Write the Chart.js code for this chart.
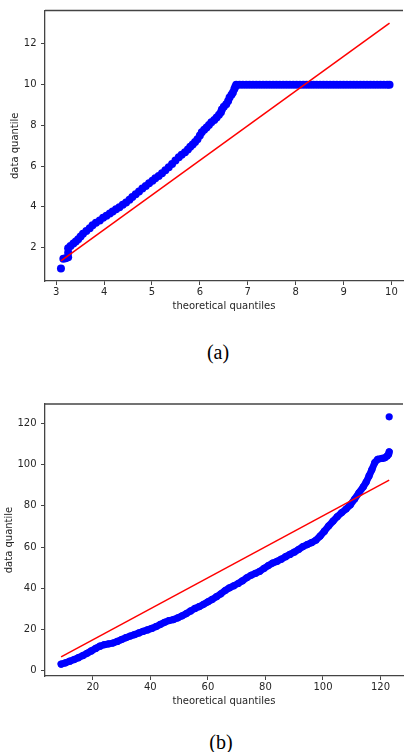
<!DOCTYPE html>
<html>
<head>
<meta charset="utf-8">
<script src="https://cdn.jsdelivr.net/npm/chart.js@4.4.1/dist/chart.umd.min.js"></script>
<style>
body { margin:0; background:#fff; width:407px; height:752px; overflow:hidden; position:relative; }
canvas { position:absolute; left:0; }
#chartA { top:0; }
#chartB { top:390px; }
.cap { position:absolute; font-family:"Liberation Serif", serif; font-size:20px; line-height:24px; color:#000; transform:translateX(-50%); }
</style>
</head>
<body>
<canvas id="chartA" width="407" height="320"></canvas>
<canvas id="chartB" width="407" height="320"></canvas>
<div class="cap" style="left:218px;top:340px">(a)</div>
<div class="cap" style="left:221px;top:730px">(b)</div>
<script>
// ---- plot (a) ----
const xTicksA = [3, 4, 5, 6, 7, 8, 9, 10];
const yTicksA = [2, 4, 6, 8, 10, 12];
const theoA = [3.10, 3.15, 3.20, 3.25, 3.25, 3.25, 3.30, 3.36, 3.41, 3.46, 3.51, 3.56, 3.63, 3.70, 3.76, 3.83,
  3.91, 3.98, 4.05, 4.12, 4.18, 4.25, 4.32, 4.39, 4.46, 4.53, 4.59, 4.66, 4.73, 4.80, 4.87, 4.94,
  5.01, 5.07, 5.14, 5.21, 5.28, 5.35, 5.42, 5.49, 5.56, 5.62, 5.69, 5.75, 5.80, 5.85, 5.90, 5.95,
  6.00, 6.04, 6.09, 6.14, 6.19, 6.24, 6.30, 6.35, 6.40, 6.44, 6.46, 6.50, 6.55, 6.59, 6.62, 6.66,
  6.69, 6.72, 6.74, 6.76,
  6.83, 6.90, 6.97, 7.04, 7.11, 7.18, 7.25, 7.32, 7.39, 7.46, 7.53, 7.60, 7.67, 7.74, 7.81, 7.88,
  7.95, 8.02, 8.09, 8.16, 8.23, 8.30, 8.37, 8.44, 8.51, 8.58, 8.65, 8.72, 8.79, 8.86, 8.93, 9.00,
  9.07, 9.14, 9.21, 9.28, 9.35, 9.42, 9.49, 9.56, 9.63, 9.70, 9.77, 9.84, 9.91, 9.96];
const dataA = [0.97, 1.45, 1.48, 1.52, 1.75, 1.97, 2.08, 2.20, 2.30, 2.41, 2.55, 2.68, 2.82, 2.95, 3.10, 3.22,
  3.33, 3.47, 3.56, 3.67, 3.77, 3.88, 3.98, 4.10, 4.22, 4.35, 4.48, 4.62, 4.75, 4.90, 5.03, 5.16,
  5.28, 5.40, 5.52, 5.65, 5.80, 5.95, 6.10, 6.27, 6.43, 6.56, 6.68, 6.82, 6.95, 7.06, 7.18, 7.32,
  7.50, 7.66, 7.78, 7.90, 8.02, 8.15, 8.27, 8.39, 8.52, 8.65, 8.78, 8.92, 9.04, 9.20, 9.37, 9.50,
  9.62, 9.78, 9.90, 10,
  10, 10, 10, 10, 10, 10, 10, 10, 10, 10, 10, 10, 10, 10, 10, 10,
  10, 10, 10, 10, 10, 10, 10, 10, 10, 10, 10, 10, 10, 10, 10, 10,
  10, 10, 10, 10, 10, 10, 10, 10, 10, 10, 10, 10, 10, 10];
const fitXA = [3.10, 9.96];
const fitYA = [1.35, 13.02];

// ---- plot (b) ----
const xTicksB = [20, 40, 60, 80, 100, 120];
const yTicksB = [0, 20, 40, 60, 80, 100, 120];
const theoB = [9.0, 10.5, 12.0, 13.5, 15.0, 16.5, 18.0, 19.5, 21.0, 22.5, 24.0, 25.5, 27.0, 28.5, 30.0, 31.5,
  33.0, 34.5, 36.0, 37.5, 39.0, 40.5, 42.0, 43.5, 45.0, 46.5, 48.0, 49.5, 51.0, 52.5, 54.0, 55.5,
  57.0, 58.5, 60.0, 61.5, 63.0, 64.5, 66.0, 67.5, 69.0, 70.5, 72.0, 73.5, 75.0, 76.5, 78.0, 79.5,
  81.0, 82.5, 84.0, 85.5, 87.0, 88.5, 90.0, 91.5, 93.0, 94.5, 96.0, 97.5, 99.0, 100.5, 102.0, 103.5,
  105.0, 106.5, 108.0, 109.5, 111.0, 112.5, 114.0, 115.0, 116.0, 117.0, 118.0, 119.0, 120.5, 121.5,
  122.3, 122.8, 123.0];
const dataB = [3.2, 3.8, 4.6, 5.4, 6.3, 7.3, 8.4, 9.6, 10.8, 11.9, 12.6, 13.0, 13.4, 14.2, 15.1, 16.0,
  16.8, 17.5, 18.3, 19.1, 19.8, 20.5, 21.4, 22.5, 23.5, 24.3, 24.8, 25.6, 26.6, 27.7, 29.0, 30.2,
  31.1, 32.2, 33.4, 34.6, 35.9, 37.3, 38.9, 40.2, 41.2, 42.3, 43.6, 45.1, 46.3, 47.2, 48.2, 49.6,
  51.0, 52.2, 53.0, 54.1, 55.3, 56.4, 57.5, 58.8, 60.2, 61.2, 62.1, 63.3, 65.3, 67.7, 70.3, 72.6,
  74.8, 76.7, 78.4, 80.5, 83.3, 86.3, 89.2, 91.5, 94.5, 97.6, 101.0, 102.6, 103.0, 103.3,
  104.2, 105.0, 106.2];
const outlierXB = [123.0];
const outlierYB = [123.2];
const fitXB = [9.0, 123.0];
const fitYB = [6.7, 92.5];

const zip = (xs, ys) => xs.map((x, i) => ({ x: x, y: ys[i] }));

const spine = '#444';
const textCol = '#262626';

// top edge of the axes box
const framePlugin = {
  id: 'frame',
  afterDraw(chart) {
    const { ctx, chartArea } = chart;
    ctx.save();
    ctx.strokeStyle = spine;
    ctx.lineWidth = 1.3;
    ctx.beginPath();
    ctx.moveTo(chartArea.left, chartArea.top);
    ctx.lineTo(chartArea.right, chartArea.top);
    ctx.stroke();
    ctx.restore();
  }
};

function qqChart(id, c) {
  const datasets = [
    {
      data: zip(c.fitX, c.fitY),
      showLine: true,
      borderColor: '#ff0000',
      borderWidth: 1.5,
      pointRadius: 0,
      order: 0
    },
    {
      data: zip(c.theo, c.vals),
      showLine: c.connect,
      borderColor: '#0000ff',
      borderWidth: 7,
      borderJoinStyle: 'round',
      borderCapStyle: 'round',
      backgroundColor: '#0000ff',
      pointRadius: c.radius,
      pointBorderWidth: 0,
      order: 1
    }
  ];
  if (c.extraX) {
    datasets.push({
      data: zip(c.extraX, c.extraY),
      backgroundColor: '#0000ff',
      pointRadius: c.radius,
      pointBorderWidth: 0,
      order: 1
    });
  }
  return new Chart(document.getElementById(id), {
    type: 'scatter',
    data: { datasets: datasets },
    options: {
      responsive: false,
      animation: false,
      events: [],
      layout: { padding: { top: c.padTop, left: 0, right: 0, bottom: 0 } },
      plugins: { legend: { display: false }, tooltip: { enabled: false } },
      scales: {
        x: {
          type: 'linear',
          min: c.xMin,
          max: c.xMax,
          afterFit: s => { s.height = c.xAxisH; },
          afterBuildTicks: s => { s.ticks = c.xTicks.map(v => ({ value: v })); },
          grid: { drawOnChartArea: false, tickLength: 4, tickColor: spine, tickWidth: 1 },
          border: { color: spine, width: 1.3 },
          ticks: { autoSkip: false, maxRotation: 0, padding: 1.5, color: textCol,
            font: { family: 'DejaVu Sans', size: 10 } },
          title: { display: true, text: 'theoretical quantiles', color: textCol,
            padding: { top: 0, bottom: c.xTitlePad }, font: { family: 'DejaVu Sans', size: 10 } }
        },
        y: {
          type: 'linear',
          min: c.yMin,
          max: c.yMax,
          afterFit: s => { s.width = 45; },
          afterBuildTicks: s => { s.ticks = c.yTicks.map(v => ({ value: v })); },
          grid: { drawOnChartArea: false, tickLength: 4, tickColor: spine, tickWidth: 1 },
          border: { color: spine, width: 1.3 },
          ticks: { autoSkip: false, padding: 4.5, color: textCol,
            font: { family: 'DejaVu Sans', size: 10 } },
          title: { display: true, text: 'data quantile', color: textCol,
            padding: { top: c.yTitlePad, bottom: 0 }, font: { family: 'DejaVu Sans', size: 10 } }
        }
      }
    },
    plugins: [framePlugin]
  });
}

qqChart('chartA', {
  theo: theoA, vals: dataA, fitX: fitXA, fitY: fitYA,
  xTicks: xTicksA, yTicks: yTicksA,
  xMin: 2.767, xMax: 10.241, yMin: 0.36, yMax: 13.64,
  padTop: 9, xAxisH: 39, xTitlePad: 8, yTitlePad: 9,
  radius: 4, connect: false
});

qqChart('chartB', {
  theo: theoB, vals: dataB, fitX: fitXB, fitY: fitYB,
  extraX: outlierXB, extraY: outlierYB,
  xTicks: xTicksB, yTicks: yTicksB,
  xMin: 3.4, xMax: 127.8, yMin: -2.58, yMax: 129.4,
  padTop: 14, xAxisH: 34, xTitlePad: 3, yTitlePad: 3.3,
  radius: 3.6, connect: true
});
</script>
</body>
</html>
